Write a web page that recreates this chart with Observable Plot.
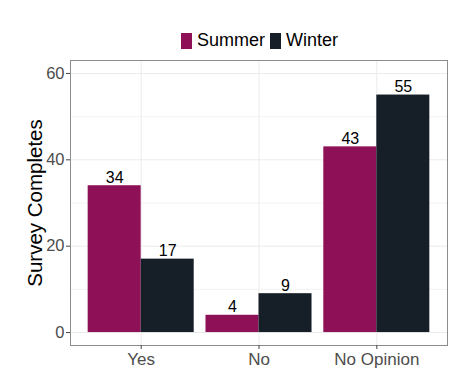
<!DOCTYPE html>
<html>
<head>
<meta charset="utf-8">
<script src="https://cdn.jsdelivr.net/npm/d3@7"></script>
<script src="https://cdn.jsdelivr.net/npm/@observablehq/plot@0.6"></script>
<style>
  html, body { margin: 0; padding: 0; background: #fff; }
  #wrap { position: relative; width: 468px; height: 386px; font-family: "Liberation Sans", Arial, sans-serif; }
  #legend { position: absolute; top: 30px; left: 0; width: 468px; display: flex; justify-content: center; align-items: center; font-size: 18px; color: #000; padding-left: 56px; box-sizing: border-box; }
  .key { display: inline-block; width: 11px; height: 16px; margin-right: 5px; }
  .item { display: flex; align-items: center; margin-right: 5px; }
</style>
</head>
<body>
<div id="wrap"><div id="legend"></div></div>
<script>
const categories = ["Yes", "No", "No Opinion"];
const seasons = ["Summer", "Winter"];
const summerValues = [34, 4, 43];
const winterValues = [17, 9, 55];
const seasonColors = ["#8E1157", "#161E27"];
const yTicks = [0, 20, 40, 60];
const yMinor = [10, 30, 50];
const yTitle = "Survey Completes";

const seriesValues = [summerValues, winterValues];
const dodge = 0.45;
const rows = [];
categories.forEach((c, i) => {
  seasons.forEach((s, j) => {
    const x1 = i + 1 + (j - 1) * dodge;
    rows.push({category: c, season: s, value: seriesValues[j][i], x1, x2: x1 + dodge, xc: x1 + dodge / 2});
  });
});

const chart = Plot.plot({
  width: 468,
  height: 386,
  marginTop: 60,
  marginBottom: 41,
  marginLeft: 70,
  marginRight: 21,
  style: {fontFamily: "'Liberation Sans', Arial, sans-serif", background: "#fff"},
  x: {domain: [0.4, 3.6], axis: null},
  y: {domain: [-3, 63], axis: null},
  color: {domain: seasons, range: seasonColors},
  marks: [
    Plot.ruleY(yMinor, {stroke: "#EBEBEB", strokeWidth: 0.6}),
    Plot.ruleY(yTicks, {stroke: "#EBEBEB", strokeWidth: 1}),
    Plot.ruleX([1, 2, 3], {stroke: "#EBEBEB", strokeWidth: 1}),
    Plot.rectY(rows, {x1: "x1", x2: "x2", y1: 0, y2: "value", fill: "season"}),
    Plot.text(rows, {x: "xc", y: "value", text: d => String(d.value), textAnchor: "middle", lineAnchor: "bottom", dy: -3, fontSize: 16, fill: "#000"}),
    Plot.frame({stroke: "#8c8c8c", strokeWidth: 1}),
    Plot.axisY(yTicks, {tickSize: 4, tickPadding: 2, fontSize: 16.5, color: "#4D4D4D", stroke: "#444", label: null}),
    Plot.axisX([1, 2, 3], {tickSize: 4, tickPadding: 3, fontSize: 17, color: "#4D4D4D", stroke: "#444", label: null, tickFormat: i => categories[i - 1]}),
    Plot.text([yTitle], {frameAnchor: "left", dx: -35, rotate: -90, text: d => d, fontSize: 20.5, fill: "#000", textAnchor: "middle", lineAnchor: "middle"})
  ]
});
document.getElementById("wrap").appendChild(chart);

const legend = document.getElementById("legend");
seasons.forEach((s, j) => {
  const item = document.createElement("span");
  item.className = "item";
  const key = document.createElement("span");
  key.className = "key";
  key.style.background = seasonColors[j];
  item.appendChild(key);
  item.appendChild(document.createTextNode(s));
  legend.appendChild(item);
});
</script>
</body>
</html>
